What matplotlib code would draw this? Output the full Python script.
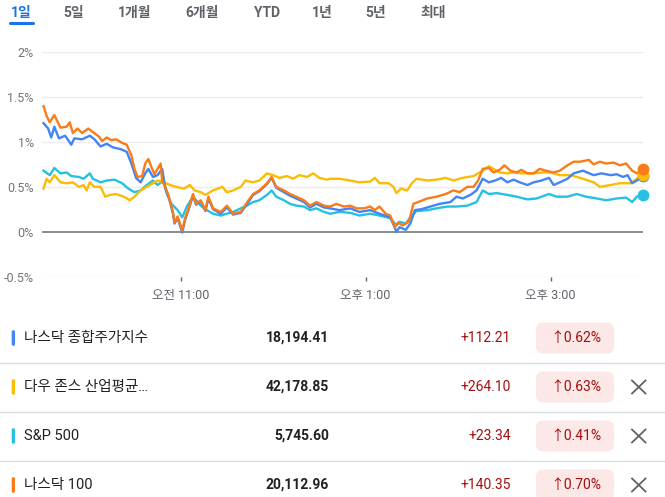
import numpy as np
import matplotlib
matplotlib.use("Agg")
import matplotlib.pyplot as plt
from matplotlib.patches import FancyBboxPatch

plt.rcParams['font.family'] = ['Roboto', 'Noto Sans CJK KR', 'DejaVu Sans']

# range tabs
tabs = ['1일', '5일', '1개월', '6개월', 'YTD', '1년', '5년', '최대']

# minutes after the 9:30 open, % change vs previous close
ndx_t = [1, 3, 5, 8, 12, 16, 18, 20, 23, 26, 30, 33, 37, 39, 42, 45, 48, 52, 55, 58,
         60, 62, 65, 67, 69, 71, 73, 75, 77, 78, 80, 82, 85, 86, 88, 91, 93, 95, 98, 100,
         103, 106, 108, 111, 116, 120, 124, 129, 134, 137, 141, 146, 149, 152, 157, 161,
         165, 170, 174, 178, 183, 187, 191, 196, 200, 204, 209, 213, 216, 219, 223, 226,
         229, 231, 234, 238, 241, 244, 250, 256, 262, 267, 271, 276, 280, 283, 286, 290,
         293, 297, 300, 304, 308, 311, 315, 319, 323, 327, 332, 336, 341, 345, 349, 355,
         358, 362, 366, 371, 375, 379, 383, 386, 390]
ndx_v = [1.40, 1.29, 1.22, 1.30, 1.16, 1.17, 1.22, 1.10, 1.15, 1.10, 1.15, 1.11, 1.06, 1.01,
         1.05, 1.02, 1.03, 0.99, 0.97, 0.85, 0.70, 0.61, 0.62, 0.76, 0.81, 0.72, 0.64, 0.70,
         0.76, 0.56, 0.50, 0.41, 0.22, 0.10, 0.17, 0.01, 0.16, 0.25, 0.42, 0.31, 0.35, 0.24,
         0.39, 0.26, 0.22, 0.29, 0.20, 0.22, 0.35, 0.42, 0.46, 0.54, 0.61, 0.50, 0.46, 0.42,
         0.39, 0.35, 0.29, 0.33, 0.29, 0.28, 0.31, 0.28, 0.29, 0.26, 0.26, 0.28, 0.24, 0.28,
         0.20, 0.18, 0.05, 0.10, 0.07, 0.11, 0.31, 0.33, 0.37, 0.39, 0.42, 0.46, 0.44, 0.50,
         0.50, 0.57, 0.70, 0.71, 0.66, 0.69, 0.74, 0.68, 0.66, 0.69, 0.65, 0.65, 0.70, 0.68,
         0.66, 0.68, 0.74, 0.78, 0.78, 0.80, 0.75, 0.78, 0.76, 0.77, 0.74, 0.76, 0.68, 0.65,
         0.70]

comp_t = [1, 4, 6, 8, 11, 15, 19, 21, 26, 31, 34, 38, 42, 46, 51, 55, 58, 61, 64, 67,
          69, 72, 75, 78, 80, 82, 85, 86, 88, 91, 93, 95, 98, 100, 103, 106, 108, 111, 116,
          120, 124, 129, 134, 137, 141, 146, 149, 152, 157, 161, 165, 170, 174, 178, 183,
          187, 193, 200, 206, 213, 219, 226, 230, 232, 236, 239, 242, 246, 252, 258, 265,
          269, 273, 278, 282, 286, 290, 294, 298, 302, 306, 310, 315, 319, 324, 329, 332,
          336, 341, 345, 351, 358, 363, 369, 373, 377, 380, 383, 386, 390]
comp_v = [1.21, 1.15, 1.05, 1.17, 1.04, 1.07, 0.97, 1.04, 1.03, 1.07, 1.03, 0.95, 0.98, 0.94,
          0.92, 0.89, 0.76, 0.60, 0.55, 0.65, 0.70, 0.61, 0.63, 0.70, 0.48, 0.40, 0.20, 0.09,
          0.15, -0.01, 0.14, 0.24, 0.40, 0.30, 0.34, 0.23, 0.37, 0.25, 0.20, 0.27, 0.19, 0.21,
          0.33, 0.41, 0.45, 0.53, 0.60, 0.49, 0.44, 0.40, 0.37, 0.33, 0.27, 0.31, 0.27, 0.26,
          0.24, 0.26, 0.22, 0.24, 0.20, 0.16, 0.00, 0.05, 0.02, 0.09, 0.24, 0.25, 0.28, 0.31,
          0.33, 0.39, 0.37, 0.41, 0.46, 0.59, 0.55, 0.57, 0.60, 0.55, 0.58, 0.55, 0.52, 0.55,
          0.57, 0.60, 0.52, 0.55, 0.59, 0.65, 0.68, 0.63, 0.65, 0.63, 0.64, 0.61, 0.63, 0.54,
          0.57, 0.62]

spx_t = [1, 5, 8, 12, 16, 19, 24, 27, 31, 33, 38, 42, 47, 52, 56, 60, 64, 68, 72, 75,
         79, 81, 84, 88, 91, 94, 98, 103, 107, 111, 116, 120, 124, 129, 133, 137, 141, 146,
         149, 152, 157, 161, 165, 170, 174, 178, 183, 187, 193, 200, 206, 213, 219, 226,
         230, 232, 236, 240, 243, 250, 256, 263, 269, 276, 282, 286, 290, 295, 302, 308,
         315, 321, 329, 334, 341, 347, 353, 360, 366, 373, 379, 383, 386, 390]
spx_v = [0.68, 0.63, 0.71, 0.65, 0.66, 0.62, 0.61, 0.59, 0.65, 0.59, 0.55, 0.57, 0.58, 0.54,
         0.48, 0.44, 0.46, 0.52, 0.57, 0.52, 0.57, 0.42, 0.31, 0.24, 0.16, 0.28, 0.39, 0.29,
         0.24, 0.20, 0.18, 0.20, 0.22, 0.26, 0.29, 0.33, 0.35, 0.41, 0.46, 0.39, 0.35, 0.31,
         0.29, 0.28, 0.24, 0.26, 0.22, 0.20, 0.22, 0.21, 0.18, 0.20, 0.18, 0.15, 0.07, 0.11,
         0.09, 0.18, 0.23, 0.24, 0.26, 0.28, 0.28, 0.29, 0.33, 0.46, 0.42, 0.43, 0.41, 0.39,
         0.36, 0.37, 0.42, 0.39, 0.39, 0.42, 0.39, 0.37, 0.35, 0.37, 0.38, 0.33, 0.39, 0.41]

dow_t = [1, 3, 5, 8, 12, 16, 20, 24, 27, 29, 31, 34, 38, 41, 44, 48, 53, 57, 60, 64,
         68, 72, 75, 79, 83, 87, 92, 96, 99, 103, 106, 111, 117, 120, 124, 129, 132, 137,
         141, 146, 150, 154, 159, 163, 167, 172, 176, 180, 185, 187, 193, 200, 206, 213,
         216, 219, 225, 228, 230, 233, 237, 240, 243, 250, 256, 262, 267, 273, 280, 286,
         290, 293, 297, 302, 306, 312, 319, 325, 330, 336, 343, 347, 351, 358, 362, 369,
         375, 382, 386, 390]
dow_v = [0.48, 0.59, 0.55, 0.63, 0.55, 0.54, 0.55, 0.50, 0.52, 0.46, 0.55, 0.50, 0.50, 0.39,
         0.41, 0.42, 0.39, 0.35, 0.39, 0.46, 0.50, 0.54, 0.57, 0.55, 0.52, 0.50, 0.48, 0.52,
         0.46, 0.44, 0.41, 0.46, 0.50, 0.44, 0.46, 0.50, 0.57, 0.55, 0.57, 0.65, 0.63, 0.60,
         0.62, 0.59, 0.63, 0.61, 0.65, 0.60, 0.58, 0.59, 0.59, 0.57, 0.55, 0.56, 0.60, 0.54,
         0.54, 0.50, 0.43, 0.48, 0.46, 0.54, 0.59, 0.57, 0.58, 0.60, 0.57, 0.60, 0.62, 0.68,
         0.73, 0.70, 0.66, 0.65, 0.66, 0.65, 0.65, 0.66, 0.66, 0.63, 0.63, 0.61, 0.59, 0.55,
         0.50, 0.52, 0.54, 0.54, 0.59, 0.63]

y_ticks = [-0.5, 0, 0.5, 1, 1.5, 2]
y_labels = ['-0.5%', '0%', '0.5%', '1%', '1.5%', '2%']
x_ticks = [90, 210, 330]
x_labels = ['오전 11:00', '오후 1:00', '오후 3:00']

# quote table
names = ['나스닥 종합주가지수', '다우 존스 산업평균…', 'S&P 500', '나스닥 100']
prices = ['18,194.41', '42,178.85', '5,745.60', '20,112.96']
changes = ['+112.21', '+264.10', '+23.34', '+140.35']
pcts = ['0.62%', '0.63%', '0.41%', '0.70%']
colors = ['#4285f4', '#fbbc04', '#24c1e0', '#fa7b17']
removable = [False, True, True, True]

fig = plt.figure(figsize=(6.65, 4.97), dpi=100)

# chart
ax = fig.add_axes([42 / 665, 1 - 276.5 / 497, 601 / 665, 224.2 / 497])
ax.set_xlim(0, 390)
ax.set_ylim(-0.5, 2.0)
for sp in ax.spines.values():
    sp.set_visible(False)
for y in y_ticks:
    if y != 0:
        ax.axhline(y, color='#ececec', lw=1, zorder=0)
ax.axhline(0, color='#80868b', lw=1.3, zorder=1)

series = [(spx_t, spx_v, colors[2]), (dow_t, dow_v, colors[1]),
          (comp_t, comp_v, colors[0]), (ndx_t, ndx_v, colors[3])]
for t, v, c in series:
    ax.plot(t, v, color=c, lw=1.7, zorder=3, solid_joinstyle='round')
for t, v, c in [series[0], series[2], series[1], series[3]]:
    ax.plot(t[-1], v[-1], 'o', color=c, ms=7.5, zorder=4, clip_on=False)

ax.set_yticks(y_ticks)
ax.set_yticklabels(y_labels)
ax.set_xticks(x_ticks)
ax.set_xticklabels(x_labels)
ax.tick_params(axis='y', length=0, pad=6, labelsize=9, labelcolor='#70757a')
ax.tick_params(axis='x', length=3, width=1, color='#5f6368', pad=6,
               labelsize=9, labelcolor='#5f6368')

# overlay in pixel units for tabs and table
ui = fig.add_axes([0, 0, 1, 1], zorder=-1)
ui.set_xlim(0, 665)
ui.set_ylim(497, 0)
ui.axis('off')

tab_x = [21, 74, 135, 202, 267, 322, 376, 433]
for i, (lab, x) in enumerate(zip(tabs, tab_x)):
    ui.text(x, 13, lab, ha='center', va='center', fontsize=10, fontweight='bold',
            color='#1a73e8' if i == 0 else '#5f6368')
ui.plot([9.5, 32.5], [23, 23], color='#1a73e8', lw=2.2, solid_capstyle='round')

row_y = [338, 387, 436, 485]
for y in [362.5, 411.5, 460.5]:
    ui.plot([0, 665], [y, y], color='#dadce0', lw=1)

for i, y in enumerate(row_y):
    ui.add_patch(FancyBboxPatch((11.7, y - 7.8), 3.3, 15.6,
                                boxstyle='round,pad=0,rounding_size=1.6',
                                fc=colors[i], ec='none'))
    ui.text(24, y, names[i], ha='left', va='center', fontsize=10.5, color='#202124')
    ui.text(329, y, prices[i], ha='right', va='center', fontsize=10, fontweight='bold',
            color='#202124')
    ui.text(511, y, changes[i], ha='right', va='center', fontsize=10, color='#a50e0e')
    ui.add_patch(FancyBboxPatch((536, y - 15.5), 78, 31,
                                boxstyle='round,pad=0,rounding_size=7',
                                fc='#fce8e6', ec='none'))
    ui.text(576, y, '↑' + pcts[i], ha='center', va='center', fontsize=10, color='#a50e0e')
    if removable[i]:
        ui.plot([632, 645.5], [y - 6.5, y + 6.5], color='#5f6368', lw=1.3)
        ui.plot([632, 645.5], [y + 6.5, y - 6.5], color='#5f6368', lw=1.3)

fig.savefig('out.png', dpi=100)
